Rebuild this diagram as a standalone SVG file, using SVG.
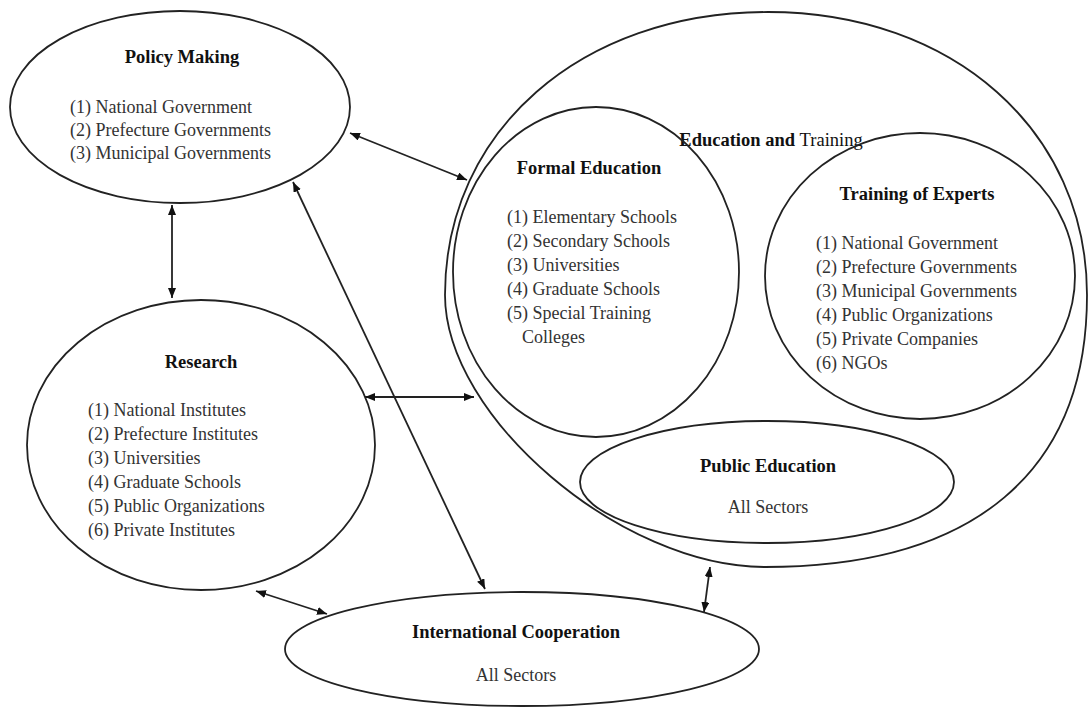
<svg xmlns="http://www.w3.org/2000/svg" width="1089" height="709" viewBox="0 0 1089 709">
<style>
.shape{fill:none;stroke:#222;stroke-width:1.8}
.conn{fill:none;stroke:#222;stroke-width:1.8}
text{font-family:"Liberation Serif","Times New Roman",serif;font-size:18px;fill:#333}
.title{font-weight:bold;fill:#111;text-anchor:middle;font-size:18.5px}
.mid{text-anchor:middle}
.reg{font-weight:normal}
</style>
<defs>
<marker id="ah" markerUnits="userSpaceOnUse" markerWidth="12" markerHeight="10" refX="10" refY="4" orient="auto-start-reverse">
<path d="M0,0 L10,4 L0,8 Z" fill="#111"/>
</marker>
</defs>
<rect width="1089" height="709" fill="#fff"/>

<g id="policy-making">
<ellipse class="shape" cx="180" cy="107" rx="170" ry="96"/>
<text class="title" x="182" y="63">Policy Making</text>
<text x="70" y="113">(1) National Government</text>
<text x="70" y="136">(2) Prefecture Governments</text>
<text x="70" y="159">(3) Municipal Governments</text>
</g>

<g id="research">
<ellipse class="shape" cx="201" cy="445" rx="174" ry="145"/>
<text class="title" x="201" y="368">Research</text>
<text x="88" y="416">(1) National Institutes</text>
<text x="88" y="440">(2) Prefecture Institutes</text>
<text x="88" y="464">(3) Universities</text>
<text x="88" y="488">(4) Graduate Schools</text>
<text x="88" y="512">(5) Public Organizations</text>
<text x="88" y="536">(6) Private Institutes</text>
</g>

<g id="education-and-training">
<path class="shape" d="M768,12 C953,12 1087,131 1087,295 C1087,472 974,567 765,567 C621,567 445,417 445,295 C445,131 581,12 768,12 Z"/>
<text class="title" x="771" y="146">Education and <tspan class="reg">Training</tspan></text>
</g>

<g id="formal-education">
<ellipse class="shape" cx="596" cy="272" rx="143" ry="165"/>
<text class="title" x="589" y="174">Formal Education</text>
<text x="507" y="223">(1) Elementary Schools</text>
<text x="507" y="247">(2) Secondary Schools</text>
<text x="507" y="271">(3) Universities</text>
<text x="507" y="295">(4) Graduate Schools</text>
<text x="507" y="319">(5) Special Training</text>
<text x="522" y="343">Colleges</text>
</g>

<g id="training-of-experts">
<ellipse class="shape" cx="920" cy="276" rx="155" ry="143"/>
<text class="title" x="917" y="200">Training of Experts</text>
<text x="816" y="249">(1) National Government</text>
<text x="816" y="273">(2) Prefecture Governments</text>
<text x="816" y="297">(3) Municipal Governments</text>
<text x="816" y="321">(4) Public Organizations</text>
<text x="816" y="345">(5) Private Companies</text>
<text x="816" y="369">(6) NGOs</text>
</g>

<g id="public-education">
<ellipse class="shape" cx="767" cy="482" rx="187" ry="61"/>
<text class="title" x="768" y="472">Public Education</text>
<text class="mid" x="768" y="513">All Sectors</text>
</g>

<g id="international-cooperation">
<ellipse class="shape" cx="522" cy="649" rx="237" ry="57"/>
<text class="title" x="516" y="638">International Cooperation</text>
<text class="mid" x="516" y="681">All Sectors</text>
</g>

<g id="connectors">
<line class="conn" x1="172" y1="205" x2="172" y2="298" marker-start="url(#ah)" marker-end="url(#ah)"/>
<line class="conn" x1="350" y1="133" x2="467" y2="180" marker-start="url(#ah)" marker-end="url(#ah)"/>
<line class="conn" x1="293" y1="182" x2="485" y2="589" marker-start="url(#ah)" marker-end="url(#ah)"/>
<line class="conn" x1="365" y1="397" x2="474" y2="397" marker-start="url(#ah)" marker-end="url(#ah)"/>
<line class="conn" x1="256" y1="591" x2="327" y2="614" marker-start="url(#ah)" marker-end="url(#ah)"/>
<line class="conn" x1="710" y1="567" x2="704" y2="612" marker-start="url(#ah)" marker-end="url(#ah)"/>
</g>
</svg>
